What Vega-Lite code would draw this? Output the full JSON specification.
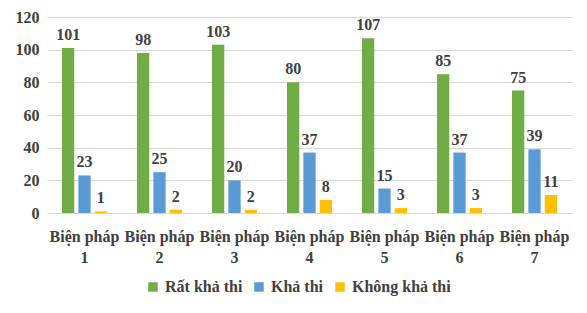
{
  "$schema": "https://vega.github.io/schema/vega-lite/v6.json",
  "width": 525,
  "height": 196,
  "autosize": {"type": "none"},
  "padding": {"left": 47, "top": 17, "right": 15, "bottom": 100},
  "background": "white",
  "config": {
    "view": {"stroke": null},
    "font": "Liberation Serif",
    "legend": {"labelFont": "Liberation Serif", "labelFontWeight": "bold", "labelFontSize": 16}
  },
  "data": {
    "values": [
      {"bp": "Biện pháp 1", "series": "Rất khả thi", "value": 101},
      {"bp": "Biện pháp 1", "series": "Khả thi", "value": 23},
      {"bp": "Biện pháp 1", "series": "Không khả thi", "value": 1},
      {"bp": "Biện pháp 2", "series": "Rất khả thi", "value": 98},
      {"bp": "Biện pháp 2", "series": "Khả thi", "value": 25},
      {"bp": "Biện pháp 2", "series": "Không khả thi", "value": 2},
      {"bp": "Biện pháp 3", "series": "Rất khả thi", "value": 103},
      {"bp": "Biện pháp 3", "series": "Khả thi", "value": 20},
      {"bp": "Biện pháp 3", "series": "Không khả thi", "value": 2},
      {"bp": "Biện pháp 4", "series": "Rất khả thi", "value": 80},
      {"bp": "Biện pháp 4", "series": "Khả thi", "value": 37},
      {"bp": "Biện pháp 4", "series": "Không khả thi", "value": 8},
      {"bp": "Biện pháp 5", "series": "Rất khả thi", "value": 107},
      {"bp": "Biện pháp 5", "series": "Khả thi", "value": 15},
      {"bp": "Biện pháp 5", "series": "Không khả thi", "value": 3},
      {"bp": "Biện pháp 6", "series": "Rất khả thi", "value": 85},
      {"bp": "Biện pháp 6", "series": "Khả thi", "value": 37},
      {"bp": "Biện pháp 6", "series": "Không khả thi", "value": 3},
      {"bp": "Biện pháp 7", "series": "Rất khả thi", "value": 75},
      {"bp": "Biện pháp 7", "series": "Khả thi", "value": 39},
      {"bp": "Biện pháp 7", "series": "Không khả thi", "value": 11}
    ]
  },
  "encoding": {
    "x": {
      "field": "bp",
      "type": "nominal",
      "sort": null,
      "scale": {"paddingInner": 0.4, "paddingOuter": 0.2},
      "axis": {
        "title": null,
        "labelAngle": 0,
        "labelExpr": "['Biện pháp', split(datum.label, ' ')[2]]",
        "labelFont": "Liberation Serif",
        "labelFontSize": 16,
        "labelFontWeight": "bold",
        "labelColor": "#404040",
        "labelLineHeight": 21,
        "labelPadding": 15,
        "ticks": false,
        "domain": false
      }
    },
    "xOffset": {
      "field": "series",
      "type": "nominal",
      "sort": ["Rất khả thi", "Khả thi", "Không khả thi"],
      "scale": {"paddingInner": 0.25, "paddingOuter": 0}
    },
    "y": {
      "field": "value",
      "type": "quantitative",
      "scale": {"domain": [0, 120]},
      "axis": {
        "title": null,
        "values": [0, 20, 40, 60, 80, 100, 120],
        "labelFont": "Liberation Serif",
        "labelFontSize": 16,
        "labelFontWeight": "bold",
        "labelColor": "#404040",
        "labelPadding": 8,
        "ticks": false,
        "domain": false,
        "gridColor": "#d9d9d9",
        "gridWidth": 1
      }
    },
    "color": {
      "field": "series",
      "type": "nominal",
      "sort": ["Rất khả thi", "Khả thi", "Không khả thi"],
      "scale": {
        "domain": ["Rất khả thi", "Khả thi", "Không khả thi"],
        "range": ["#70AD47", "#5B9BD5", "#FFC000"]
      },
      "legend": {
        "title": null,
        "orient": "none",
        "legendX": 98,
        "legendY": 262,
        "direction": "horizontal",
        "symbolType": "square",
        "symbolSize": 90,
        "symbolStrokeWidth": 0,
        "symbolOffset": 0,
        "labelOffset": 4,
        "labelFont": "Liberation Serif",
        "labelFontSize": 16,
        "labelFontWeight": "bold",
        "labelColor": "#404040",
        "columnPadding": 8
      }
    }
  },
  "layer": [
    {"mark": {"type": "bar"}},
    {
      "mark": {
        "type": "text",
        "baseline": "alphabetic",
        "dy": -8,
        "font": "Liberation Serif",
        "fontSize": 16,
        "fontWeight": "bold",
        "color": "#404040"
      },
      "encoding": {
        "text": {"field": "value", "type": "quantitative"},
        "color": {"value": "#404040"}
      }
    }
  ]
}
